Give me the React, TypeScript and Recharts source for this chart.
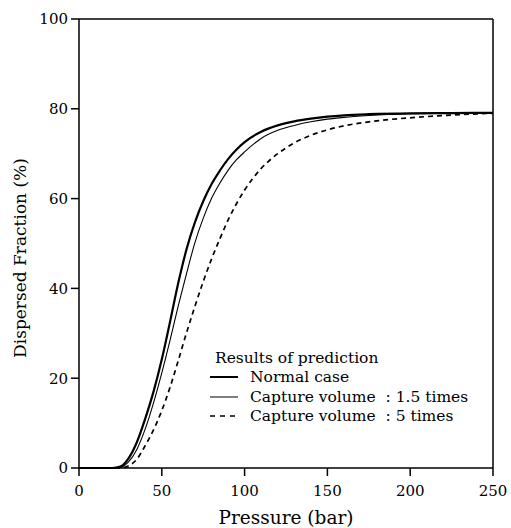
import React from 'react';
import { LineChart, Line, XAxis, YAxis, ReferenceLine } from 'recharts';

const pressure = [0, 10, 20, 25, 30, 35, 40, 45, 50, 55, 60, 65, 70, 75, 80, 85, 90, 95, 100, 110, 120, 130, 140, 150, 160, 175, 200, 225, 250];
const normalCase = [0, 0, 0, 0.3, 2.2, 5.8, 11, 17, 24.2, 32.6, 41.3, 48.8, 54.7, 59.4, 63.2, 66.2, 68.8, 70.9, 72.6, 74.9, 76.3, 77.2, 77.8, 78.25, 78.55, 78.8, 79, 79.05, 79.1];
const capture15 = [0, 0, 0, 0.1, 1.4, 4.2, 8.7, 14.5, 21.2, 28.5, 36.2, 43.4, 50.2, 55.6, 60, 63.4, 66.3, 68.6, 70.4, 73.4, 75.2, 76.3, 77.1, 77.7, 78.1, 78.5, 78.9, 79.05, 79.1];
const capture5 = [0, 0, 0, 0, 0.5, 2, 5, 8.5, 12.8, 18, 24, 30.2, 36, 41.5, 46.5, 51, 55.2, 58.8, 61.9, 66.7, 70, 72.4, 74.1, 75.3, 76.2, 77.1, 78, 78.6, 79];

const xTicks = [0, 50, 100, 150, 200, 250];
const yTicks = [0, 20, 40, 60, 80, 100];
const seriesNames = ['Normal case', 'Capture volume  : 1.5 times', 'Capture volume  : 5 times'];
const legendTitle = 'Results of prediction';

const data = pressure.map((p, i) => ({ p, normal: normalCase[i], c15: capture15[i], c5: capture5[i] }));

const FONT = '"DejaVu Serif", serif';
const LFS = 15.5;

const LegendBox = () => (
  <svg width={300} height={80} style={{ display: 'block' }}>
    <text x={10} y={15} fontFamily={FONT} fontSize={LFS} fill="#000">{legendTitle}</text>
    <line x1={5} x2={33} y1={29} y2={29} stroke="#000" strokeWidth={2} />
    <text x={45} y={34} fontFamily={FONT} fontSize={LFS} fill="#000" style={{ whiteSpace: 'pre' }}>{seriesNames[0]}</text>
    <line x1={5} x2={33} y1={49} y2={49} stroke="#000" strokeWidth={1} />
    <text x={45} y={54} fontFamily={FONT} fontSize={LFS} fill="#000" style={{ whiteSpace: 'pre' }}>{seriesNames[1]}</text>
    <line x1={5} x2={33} y1={68} y2={68} stroke="#000" strokeWidth={1.6} strokeDasharray="5 5" />
    <text x={45} y={73} fontFamily={FONT} fontSize={LFS} fill="#000" style={{ whiteSpace: 'pre' }}>{seriesNames[2]}</text>
  </svg>
);

export default function App() {
  return (
    <div style={{ position: 'absolute', left: 0, top: 0, width: 511, height: 528, background: '#fff' }}>
      <LineChart width={511} height={528} data={data} margin={{ top: 19, right: 18, bottom: 0, left: 0 }}>
        <XAxis
          dataKey="p"
          type="number"
          domain={[0, 250]}
          ticks={xTicks}
          tickSize={8}
          tickMargin={9}
          height={60}
          stroke="#000"
          axisLine={{ stroke: '#000', strokeWidth: 1.5 }}
          tickLine={{ stroke: '#000', strokeWidth: 1.5 }}
          tick={{ fill: '#000', fontSize: 15, fontFamily: FONT }}
          label={{ value: 'Pressure (bar)', position: 'insideBottom', offset: 4, fill: '#000', fontSize: 18.5, fontFamily: FONT }}
        />
        <YAxis
          type="number"
          domain={[0, 100]}
          ticks={yTicks}
          tickSize={8}
          tickMargin={3}
          width={79}
          stroke="#000"
          axisLine={{ stroke: '#000', strokeWidth: 1.5 }}
          tickLine={{ stroke: '#000', strokeWidth: 1.5 }}
          tick={{ fill: '#000', fontSize: 15, fontFamily: FONT }}
          label={() => (
            <text x={20} y={258} transform="rotate(-90 20 258)" textAnchor="middle" dominantBaseline="central" fontFamily={FONT} fontSize={17} fill="#000">
              Dispersed Fraction (%)
            </text>
          )}
        />
        <ReferenceLine y={100} stroke="#000" strokeWidth={1.5} />
        <ReferenceLine x={250} stroke="#000" strokeWidth={1.5} />
        <Line type="monotone" dataKey="c5" name={seriesNames[2]} stroke="#000" strokeWidth={1.7} strokeDasharray="5 4" dot={false} isAnimationActive={false} />
        <Line type="monotone" dataKey="c15" name={seriesNames[1]} stroke="#000" strokeWidth={1.1} dot={false} isAnimationActive={false} />
        <Line type="monotone" dataKey="normal" name={seriesNames[0]} stroke="#000" strokeWidth={2.2} dot={false} isAnimationActive={false} />
      </LineChart>
      <div style={{ position: 'absolute', left: 205, top: 348 }}>
        <LegendBox />
      </div>
    </div>
  );
}
